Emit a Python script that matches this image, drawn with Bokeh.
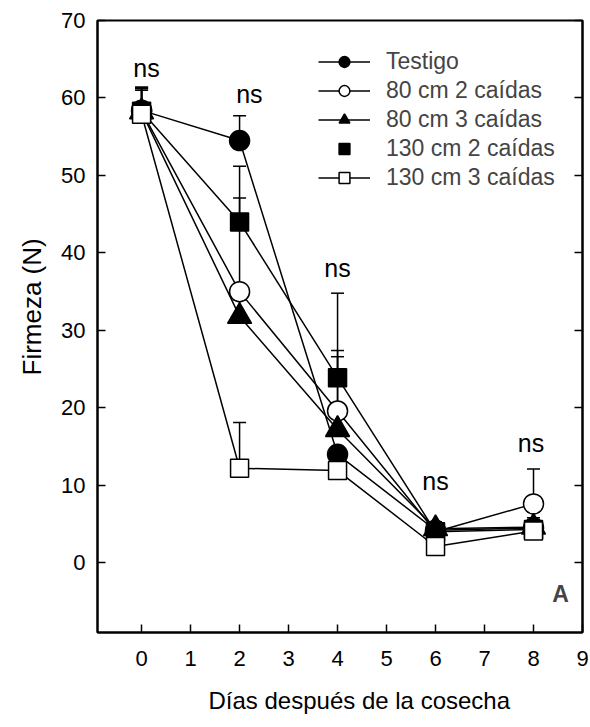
from bokeh.plotting import figure
from bokeh.models import FixedTicker, LinearAxis, Range1d, Legend, LegendItem, Label, Title, ColumnDataSource
from bokeh.core.properties import value
from bokeh.embed import file_html
from bokeh.resources import INLINE

days = [0, 2, 4, 6, 8]
testigo = [58.4, 54.5, 14.0, 4.2, 4.5]
testigo_up = [61.4, 57.7, 14.8, 5.0, 5.2]
cm80_2 = [58.3, 35.0, 19.6, 4.0, 7.6]
cm80_2_up = [61.2, 47.1, 27.4, 4.8, 12.1]
cm80_3 = [58.2, 31.8, 17.2, 4.4, 4.6]
cm80_3_up = [61.0, 34.0, 26.6, 5.3, 5.6]
cm130_2 = [58.3, 44.0, 23.9, 4.0, 4.3]
cm130_2_up = [61.3, 51.2, 34.8, 4.9, 5.8]
cm130_3 = [57.9, 12.2, 11.9, 2.1, 4.1]
cm130_3_up = [61.3, 18.1, 12.6, 2.8, 4.8]

ns_x = [0.1, 2.2, 4.0, 6.0, 7.95]
ns_y = [63.9, 60.5, 38.1, 10.6, 15.4]
ns_text = ["ns", "ns", "ns", "ns", "ns"]

x_ticks = [0, 1, 2, 3, 4, 5, 6, 7, 8, 9]
y_ticks = [0, 10, 20, 30, 40, 50, 60, 70]

FONT = "Liberation Sans"

p = figure(frame_width=485, frame_height=612, x_range=Range1d(-0.9, 9), y_range=Range1d(-9, 70),
           output_backend="svg", toolbar_location=None,
           min_border_left=97, min_border_right=8, min_border_top=20, min_border_bottom=95)
p.grid.visible = False
p.outline_line_color = "black"
p.outline_line_width = 2

for ax in (p.xaxis[0], p.yaxis[0]):
    ax.axis_line_width = 2
    ax.major_tick_line_width = 1.5
    ax.major_tick_in = 8
    ax.major_tick_out = 0
    ax.minor_tick_line_color = None
    ax.major_label_text_font = FONT
    ax.major_label_text_font_size = "22px"
    ax.major_label_text_color = "black"

p.xaxis.ticker = FixedTicker(ticks=x_ticks)
p.yaxis.ticker = FixedTicker(ticks=y_ticks)
p.xaxis.major_label_standoff = 18
p.yaxis.major_label_standoff = 12

right = LinearAxis(ticker=FixedTicker(ticks=y_ticks), major_label_text_color=None,
                   major_label_text_font_size="1px", major_label_standoff=0,
                   major_tick_in=8, major_tick_out=0, minor_tick_line_color=None,
                   axis_line_width=2, major_tick_line_width=1.5)
p.add_layout(right, "right")

xtitle = Title(text="Días después de la cosecha", align="left", offset=111, standoff=32,
               text_font=FONT, text_font_size="24px", text_font_style="normal", text_color="black")
p.add_layout(xtitle, "below")
ytitle = Title(text="Firmeza (N)", align="left", offset=257, standoff=24,
               text_font=FONT, text_font_size="26px", text_font_style="normal", text_color="black")
p.add_layout(ytitle, "left")

series = [
    ("Testigo", testigo, testigo_up, "circle", "black", 20, True),
    ("80 cm 2 caídas", cm80_2, cm80_2_up, "circle", "white", 20, True),
    ("80 cm 3 caídas", cm80_3, cm80_3_up, "triangle", "black", 24, True),
    ("130 cm 2 caídas", cm130_2, cm130_2_up, "square", "black", 18, False),
    ("130 cm 3 caídas", cm130_3, cm130_3_up, "square", "white", 18, True),
]

line_rs = []
for name, vals, ups, m, fc, sz, lg in series:
    line_rs.append(p.line(days, vals, line_color="black", line_width=1.5))
for name, vals, ups, m, fc, sz, lg in series:
    p.segment(x0=days, y0=vals, x1=days, y1=ups, line_color="black", line_width=1.5)
    p.scatter(days, ups, marker="dash", size=13, line_color="black", line_width=1.5)

items = []
for (name, vals, ups, m, fc, sz, lg), lr in zip(series, line_rs):
    sr = p.scatter(days, vals, marker=m, size=sz, fill_color=fc, line_color="black", line_width=1.5)
    items.append(LegendItem(label=name, renderers=[lr, sr] if lg else [sr]))

legend = Legend(items=items, location=(221, 441), glyph_width=52, glyph_height=27,
                label_height=27, spacing=2, padding=0, label_standoff=16,
                label_text_font=FONT, label_text_font_size="23px",
                border_line_color=None, background_fill_alpha=0, margin=0)
p.add_layout(legend, "center")

src = ColumnDataSource(dict(x=ns_x, y=ns_y, t=ns_text))
p.text(x="x", y="y", text="t", source=src, text_font=value(FONT), text_font_size="25px",
       text_align="center", text_baseline="middle", text_color="black")

p.add_layout(Label(x=8.55, y=-4.0, text="A", text_font=FONT, text_font_size="23px",
                   text_font_style="bold", text_align="center", text_baseline="middle"))

open("out.html", "w").write(file_html(p, INLINE))
